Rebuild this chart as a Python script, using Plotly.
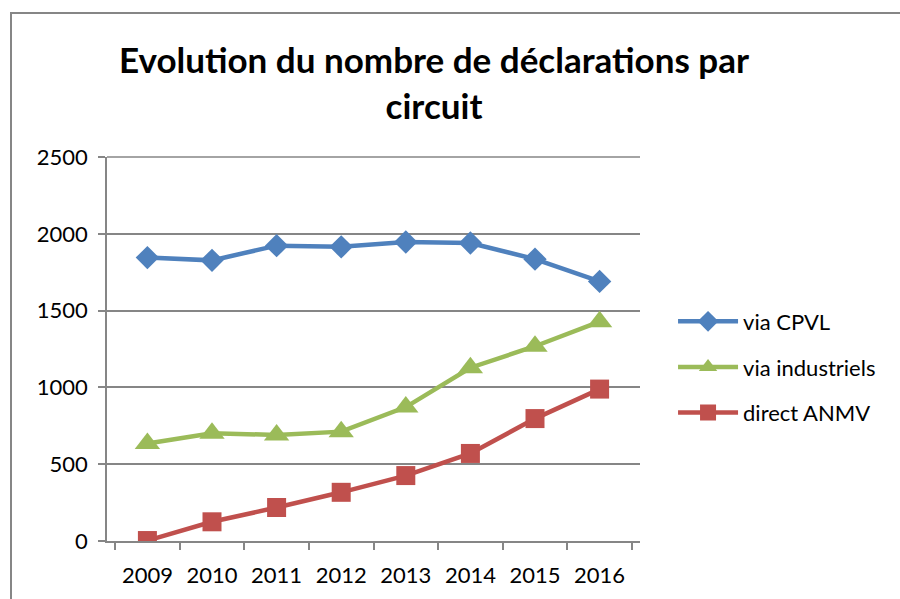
import plotly.graph_objects as go

years = ["2009", "2010", "2011", "2012", "2013", "2014", "2015", "2016"]
via_cpvl = [1845, 1827, 1923, 1915, 1947, 1940, 1835, 1690]
via_industriels = [635, 702, 690, 712, 872, 1128, 1268, 1428]
direct_anmv = [3, 125, 218, 317, 426, 570, 797, 989]

FONT = "Lato, Carlito, Calibri, sans-serif"

L, T, B = 107, 157, 58
PW, PH = 533, 384

fig = go.Figure()
series = [
    ("via CPVL", via_cpvl, "#4F81BD", "diamond", 18),
    ("via industriels", via_industriels, "#9BBB59", "triangle-up", 22),
    ("direct ANMV", direct_anmv, "#C0504D", "square", 19),
]
for i, (name, vals, col, sym, sz) in enumerate(series):
    fig.add_trace(go.Scatter(
        x=years, y=vals, name=name, mode="lines+markers",
        line=dict(color=col, width=4.5),
        marker=dict(symbol=sym, size=sz, color=col),
        legendgroup=f"g{i}",
    ))

fig.update_layout(
    width=900, height=599,
    paper_bgcolor="white", plot_bgcolor="white",
    margin=dict(l=L, r=900 - L - PW, t=T, b=B, autoexpand=False),
    font=dict(family=FONT, size=22, color="black"),
    title=dict(
        text="<b>Evolution du nombre de déclarations par<br>circuit</b>",
        x=434 / 900, xanchor="center", y=1 - 73 / 599, yanchor="middle",
        font=dict(family=FONT, size=35, color="black"),
    ),
    showlegend=True,
    legend=dict(
        x=1.062, xanchor="left", y=0.453, yanchor="middle",
        font=dict(family=FONT, size=22, color="black"),
        tracegroupgap=14, itemwidth=60, bgcolor="rgba(0,0,0,0)",
    ),
)
fig.update_xaxes(
    type="category", tickson="boundaries", ticks="outside", ticklen=7,
    tickcolor="#868686", tickwidth=1.5, automargin=False, ticklabelstandoff=14,
    showline=True, linecolor="#868686", linewidth=1.5,
    showgrid=False, tickfont=dict(family=FONT, size=22, color="black"),
)
fig.update_yaxes(
    range=[0, 2500], dtick=500, ticks="outside", ticklen=7,
    tickcolor="#868686", tickwidth=1.5, automargin=False, ticklabelstandoff=6,
    showline=True, linecolor="#868686", linewidth=1.5,
    showgrid=True, gridcolor="#868686", gridwidth=1.5,
    zeroline=False, tickfont=dict(family=FONT, size=22, color="black"),
)
fig.add_shape(type="line", xref="paper", yref="paper", x0=0, x1=1, y0=1, y1=1,
              line=dict(color="#868686", width=1.5), layer="below")
fig.add_shape(type="rect", xref="paper", yref="paper",
              x0=(11 - L) / PW, x1=1.6, y0=-0.3, y1=(599 - B - 13) / PH,
              line=dict(color="#868686", width=2), layer="below")

fig.write_html("out.html", config={"displayModeBar": False},
               post_script="document.body.style.margin='0';")
